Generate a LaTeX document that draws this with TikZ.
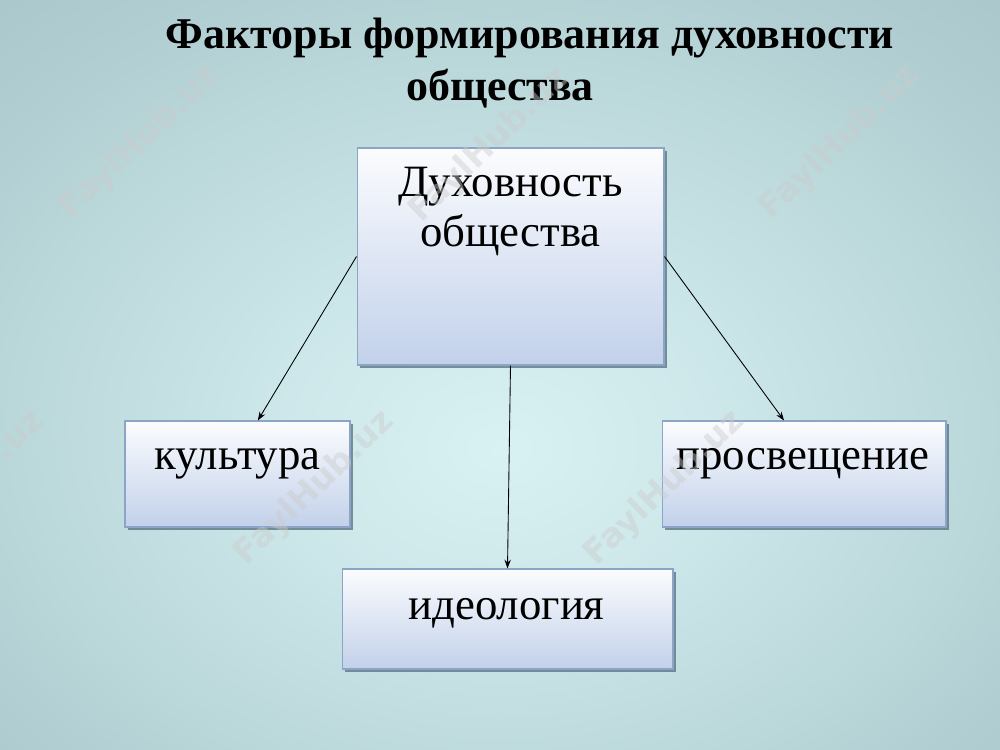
\documentclass[tikz,border=0pt]{standalone}
\usepackage{fontspec}
\setmainfont{Liberation Serif}
\newfontfamily\markfont{DejaVu Sans}
\usetikzlibrary{positioning,calc,shadows,arrows.meta}

\definecolor{bgin}{HTML}{D8F1F3}
\definecolor{bgmid}{HTML}{B2D0D3}
\definecolor{bgedge}{HTML}{9DBBBE}
\definecolor{bgout}{HTML}{7F9FA2}
\definecolor{boxtop}{HTML}{FBFCFE}
\definecolor{boxbot}{HTML}{C2D1EA}
\definecolor{boxline}{HTML}{8CA4C8}
\definecolor{boxshade}{HTML}{56707E}

\pgfdeclareradialshading{slidebg}{\pgfpoint{0bp}{-5bp}}{color(0bp)=(bgin); color(10bp)=(bgin!75!bgmid); color(30bp)=(bgmid); color(50bp)=(bgedge); color(74bp)=(bgout)}

\tikzset{
  factor/.style={draw=boxline, line width=0.6pt, top color=boxtop, bottom color=boxbot,
    drop shadow={shadow xshift=1.6pt, shadow yshift=-1.6pt, fill=boxshade, opacity=0.75}},
  factortext/.style={font=\fontsize{25.5}{28.5}\selectfont, inner sep=0pt, align=center},
  headline/.style={font=\fontsize{25}{29}\selectfont\bfseries, inner sep=0pt},
  link/.style={line width=0.5pt, -{Stealth[length=5pt,width=3.6pt]}},
  watermark/.style={font=\markfont\bfseries\fontsize{19}{22}\selectfont, text=gray!40, opacity=0.45, rotate=44}
}

\begin{document}
\begin{tikzpicture}[x=0.02cm, y=-0.02cm]

% slide background
\clip (0,0) rectangle (1000,750);
\shade[shading=slidebg] (0,0) rectangle (1000,750);

% title
\node[headline, anchor=base] (title1) at (530,49) {Факторы формирования духовности};
\node[headline, anchor=base] (title2) at (500,101) {общества};

% boxes
\node[factor, minimum width=6.14cm, minimum height=4.34cm] (spirit) at (510.5,256.5) {};
\node[factor, minimum width=4.5cm, minimum height=2.12cm] (culture) at (237.5,474) {};
\node[factor, minimum width=5.68cm, minimum height=2.12cm] (enlight) at (804,474) {};
\node[factor, minimum width=6.62cm, minimum height=2.0cm] (ideology) at (507.5,619) {};

% box texts
\node[factortext, anchor=north] (spirit-t) at ($(spirit.north)+(0,19)$) {Духовность\\общества};
\node[factortext, anchor=base] (culture-t) at ($(culture.north)+(0,49)$) {культура};
\node[factortext, anchor=base] (enlight-t) at ($(enlight.north)+(-1,49)$) {просвещение};
\node[factortext, anchor=base] (ideology-t) at ($(ideology.north)+(-1,51)$) {идеология};

% arrows
\draw[link] (spirit.west) -- ($(culture.north west)!0.59!(culture.north east)$);
\draw[link] (spirit.east) -- ($(enlight.north west)!0.43!(enlight.north east)$);
\draw[link] (spirit.south) -- (ideology.north);

% watermarks
\foreach \x/\y in {140/142, 490/145, 840/142, -35/488, 315/488, 665/488}
  \node[watermark] at (\x,\y) {FaylHub.uz};

\end{tikzpicture}
\end{document}
